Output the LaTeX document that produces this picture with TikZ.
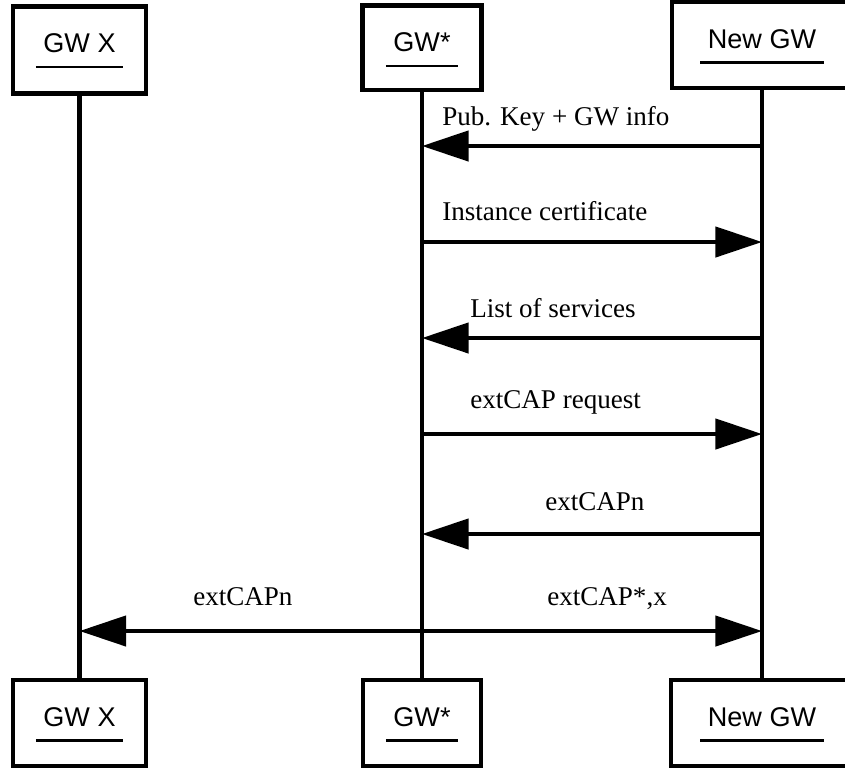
\documentclass[tikz,border=0pt]{standalone}
\usepackage{fontspec}
\setmainfont{Liberation Serif}
\setsansfont{Liberation Sans}
\usetikzlibrary{arrows.meta,calc}

\tikzset{
  party/.style={draw, line width=3.4pt, outer sep=0pt, inner sep=0pt, minimum height=64.5pt},
  partyname/.style={font=\sffamily\fontsize{20.3}{24}\selectfont, inner xsep=5.5pt, inner ysep=0pt, anchor=base},
  uline/.style={line width=1.6pt},
  lifeline/.style={line width=3.4pt},
  msg/.style={line width=3.4pt, -{Triangle[length=35pt,width=22.5pt]}},
  dmsg/.style={line width=3.4pt, {Triangle[length=35pt,width=22.5pt]}-{Triangle[length=35pt,width=22.5pt]}},
  msgtext/.style={font=\fontsize{20.3}{24}\selectfont, inner sep=0pt, anchor=base west},
}

\begin{document}
\begin{tikzpicture}[x=0.75pt, y=-0.75pt]
  \useasboundingbox (0,0) rectangle (845,769);
  \clip (0,0) rectangle (845,769);
  % Participants, top row
  \node[party, minimum width=100pt, minimum height=65.25pt] (gwxTop) at (79.5,50) {};
  \node[party, minimum width=89.5pt, minimum height=63.4pt] (gwsTop) at (422,47.75) {};
  \node[party, minimum width=135pt] (newTop) at (762,45) {};
  % Participants, bottom row
  \node[party, minimum width=100pt] (gwxBot) at (79.5,723) {};
  \node[party, minimum width=88.5pt] (gwsBot) at (422,723) {};
  \node[party, minimum width=136.5pt] (newBot) at (762,723) {};
  % Names, underlined
  \foreach \p/\t in {gwxTop/GW X, gwsTop/GW*, newTop/New GW, gwxBot/GW X, gwsBot/GW*, newBot/New GW} {
    \node[partyname] (\p-name) at ($(\p.north)+(0,46)$) {\t};
    \draw[uline] ($(\p-name.base west)+(0,14.5)$) -- ($(\p-name.base east)+(0,14.5)$);
  }
  % Lifelines
  \draw[lifeline] (gwxTop.south) -- (gwxBot.north);
  \draw[lifeline] (gwsTop.south) -- (gwsBot.north);
  \draw[lifeline] (newTop.south) -- (newBot.north);
  % Message rows
  \coordinate (m1) at (0,146);
  \coordinate (m2) at (0,242);
  \coordinate (m3) at (0,338);
  \coordinate (m4) at (0,434);
  \coordinate (m5) at (0,534);
  \coordinate (m6) at (0,631);
  % Messages
  \draw[msg] (newTop |- m1) -- (gwsTop |- m1);
  \node[msgtext] (t1) at (442,125) {Pub. Key + GW info};
  \draw[msg] (gwsTop |- m2) -- (newTop |- m2);
  \node[msgtext] (t2) at (442,220) {Instance certificate};
  \draw[msg] (newTop |- m3) -- (gwsTop |- m3);
  \node[msgtext] (t3) at (470,317) {List of services};
  \draw[msg] (gwsTop |- m4) -- (newTop |- m4);
  \node[msgtext] (t4) at (470,408) {extCAP request};
  \draw[msg] (newTop |- m5) -- (gwsTop |- m5);
  \node[msgtext] (t5) at (545,510) {extCAPn};
  % Broadcast of both capabilities
  \draw[dmsg] (gwxTop |- m6) -- (newTop |- m6);
  \node[msgtext] (t6) at (193,605) {extCAPn};
  \node[msgtext] (t7) at (547,605) {extCAP*,x};
\end{tikzpicture}
\end{document}
